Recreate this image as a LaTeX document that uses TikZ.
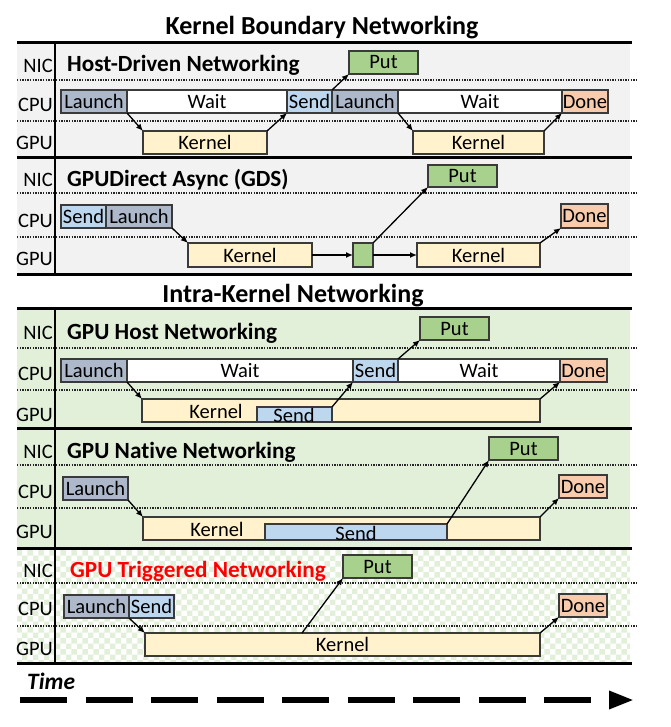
\documentclass[tikz,border=0pt]{standalone}
\usepackage{fontspec}
\setmainfont[Ligatures={NoCommon}]{Carlito}
\usetikzlibrary{arrows.meta,patterns}
\definecolor{cLaunch}{HTML}{ADB9CA}
\definecolor{cSend}{HTML}{BDD7EE}
\definecolor{cKernel}{HTML}{FFF2CC}
\definecolor{cPut}{HTML}{A9D18E}
\definecolor{cDone}{HTML}{F8CBAD}
\definecolor{bgGray}{HTML}{F2F2F2}
\definecolor{bgGreen}{HTML}{E2F0D9}
\definecolor{edge}{HTML}{3A3A3A}
\tikzset{
  box/.style={draw=edge, line width=1.1pt, inner sep=0pt, outer sep=0pt, font=\fontsize{20.5}{21}\selectfont},
  arr/.style={line width=1.3pt, -{Latex[length=7pt,width=6pt]}},
  thickrule/.style={line width=3pt, black},
  vrule/.style={line width=1.5pt, black},
  dotrule/.style={line width=1.3pt, black!85, dash pattern=on 1.3pt off 1.3pt},
  lane/.style={font=\fontsize{20.5}{21}\selectfont, anchor=base east, inner sep=0pt},
  ptitle/.style={font=\fontsize{23.2}{24}\selectfont\bfseries, anchor=base west, inner sep=0pt},
  mtitle/.style={font=\fontsize{26}{27}\selectfont\bfseries, anchor=base, inner sep=0pt},
  txt/.style={font=\fontsize{20.5}{21}\selectfont, inner sep=0pt},
}
\newcommand\bx[7]{\node[box, fill=#6, minimum width={(#4-#2)*1pt}, minimum height={(#5-#3)*1pt}] (#1) at ({(#2+#4)/2},{(#3+#5)/2}) {#7};}
\begin{document}
\begin{tikzpicture}[x=1pt,y=-1pt]
\useasboundingbox (0,0) rectangle (670,727);
% backgrounds
\fill[bgGray] (17,43) rectangle (630,274);
\fill[bgGreen] (17,308) rectangle (630,548);
\fill[white] (17,548) rectangle (630,663);
\fill[pattern=checkerboard, pattern color=bgGreen] (17,548) rectangle (630,663);
% dotted lane separators
\foreach \yy in {80,121,193,237,348,390,465,508,583,626}{
  \draw[dotrule] (17,\yy) -- (637,\yy);
}
% rules
\foreach \yy in {43,158,274,308,428,548,663}{
  \draw[thickrule] (17,\yy) -- (632,\yy);
}
\draw[vrule] (55,43) -- (55,274);
\draw[vrule] (55,308) -- (55,663);
% main titles
\node[mtitle] (t1) at (322,35) {Kernel Boundary Networking};
\node[mtitle] (t2) at (293,302) {Intra-Kernel Networking};
% lane labels
\foreach \n/\b/\c [count=\i] in {73/112/150, 187/227/265, 339/380/421, 458/498/538, 577/615/655}{
  \node[lane] (nic\i) at (53,\n) {NIC};
  \node[lane] (cpu\i) at (53,\b) {CPU};
  \node[lane] (gpu\i) at (53,\c) {GPU};
}
% panel titles
\node[ptitle] (pt1) at (67,72) {Host-Driven Networking};
\node[ptitle] (pt2) at (67,187) {GPUDirect Async (GDS)};
\node[ptitle] (pt3) at (67,339) {GPU Host Networking};
\node[ptitle] (pt4) at (67,458) {GPU Native Networking};
\node[ptitle, text=red] (pt5) at (70,577) {GPU Triggered Networking};

% ---- Panel 1
\bx{L1a}{61}{90}{127}{113}{cLaunch}{Launch}
\bx{W1a}{127}{90}{287}{113}{white}{Wait}
\bx{S1}{287}{90}{332}{113}{cSend}{Send}
\bx{L1b}{332}{90}{398}{113}{cLaunch}{Launch}
\bx{W1b}{398}{90}{562}{113}{white}{Wait}
\bx{D1}{562}{90}{608}{113}{cDone}{Done}
\bx{P1}{349}{51}{418}{74}{cPut}{Put}
\bx{K1a}{143}{131}{267}{154}{cKernel}{Kernel}
\bx{K1b}{413}{131}{544}{154}{cKernel}{Kernel}
\draw[arr] (L1a.south east) -- (K1a.north west);
\draw[arr] (K1a.north east) -- (S1.south west);
\draw[arr] (S1.north east) -- (P1.south west);
\draw[arr] (L1b.south east) -- (K1b.north west);
\draw[arr] (K1b.north east) -- (D1.south west);

% ---- Panel 2
\bx{S2}{61}{205}{106}{228}{cSend}{Send}
\bx{L2}{106}{205}{172}{228}{cLaunch}{Launch}
\bx{K2a}{188}{243}{312}{267}{cKernel}{Kernel}
\bx{G2}{353}{243}{373}{267}{cPut}{}
\bx{K2b}{417}{243}{540}{267}{cKernel}{Kernel}
\bx{P2}{428}{165}{497}{187}{cPut}{Put}
\bx{D2}{561}{204}{608}{228}{cDone}{Done}
\draw[arr] (L2.south east) -- (K2a.north west);
\draw[arr] (K2a.east) -- (G2.west);
\draw[arr] (G2.east) -- (K2b.west);
\draw[arr] (G2.north east) -- (P2.south west);
\draw[arr] (K2b.north east) -- (D2.south west);

% ---- Panel 3
\bx{L3}{61}{359}{127}{382}{cLaunch}{Launch}
\bx{W3a}{127}{359}{353}{382}{white}{Wait}
\bx{S3}{353}{359}{398}{382}{cSend}{Send}
\bx{W3b}{398}{359}{560}{382}{white}{Wait}
\bx{D3}{560}{359}{607}{382}{cDone}{Done}
\bx{P3}{420}{317}{489}{340}{cPut}{Put}
\bx{K3}{142}{399}{540}{422}{cKernel}{}
\node[txt] (K3t) at (216,411) {Kernel};
\bx{S3g}{257}{407}{332}{422}{cSend}{}
\node[txt] (S3t) at (294,415) {Send};
\draw[arr] (L3.south east) -- (K3.north west);
\draw[arr] (S3g.north east) -- (S3.south west);
\draw[arr] (S3.north east) -- (P3.south west);
\draw[arr] (K3.north east) -- (D3.south west);

% ---- Panel 4
\bx{L4}{63}{477}{128}{500}{cLaunch}{Launch}
\bx{K4}{143}{517}{540}{540}{cKernel}{}
\node[txt] (K4t) at (217,529) {Kernel};
\bx{S4g}{265}{524}{447}{540}{cSend}{}
\node[txt] (S4t) at (356,533) {Send};
\bx{P4}{489}{437}{558}{460}{cPut}{Put}
\bx{D4}{559}{475}{607}{498}{cDone}{Done}
\draw[arr] (L4.south east) -- (K4.north west);
\draw[arr] (S4g.north east) -- (P4.south west);
\draw[arr] (K4.north east) -- (D4.south west);

% ---- Panel 5
\bx{L5}{64}{595}{129}{618}{cLaunch}{Launch}
\bx{S5}{129}{595}{174}{618}{cSend}{Send}
\bx{K5}{145}{633}{540}{656}{cKernel}{Kernel}
\bx{P5}{343}{555}{412}{578}{cPut}{Put}
\bx{D5}{559}{594}{607}{617}{cDone}{Done}
\draw[arr] (L5.south east) -- (K5.north west);
\draw[arr] ([xshift=157pt]K5.north west) -- (P5.south west);
\draw[arr] (K5.north east) -- (D5.south west);

% ---- Time axis
\node[font=\fontsize{23.5}{24}\selectfont\bfseries\itshape, anchor=base west, inner sep=0pt] (time) at (27,689) {Time};
\coordinate (ta) at (20,700);
\coordinate (tb) at (634,700);
\draw[line width=6pt, dash pattern=on 47pt off 18.5pt, -{Triangle[length=25pt,width=17pt]}] (ta) -- (tb);
\end{tikzpicture}
\end{document}
